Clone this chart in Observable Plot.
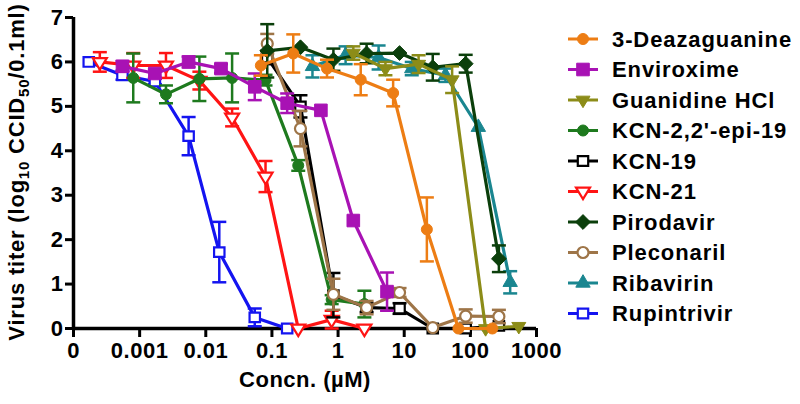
<!DOCTYPE html>
<html><head><meta charset="utf-8">
<script src="https://cdn.jsdelivr.net/npm/d3@7"></script>
<script src="https://cdn.jsdelivr.net/npm/@observablehq/plot@0.6"></script>
<style>
html,body{margin:0;padding:0;background:#fff;}
#chart{position:relative;width:800px;height:404px;}
</style></head><body><div id="chart"></div>
<script>
// ---- data: [concentration µM, titer log10 CCID50/0.1ml, error] ----
const seriesNames = ["3-Deazaguanine","Enviroxime","Guanidine HCl","KCN-2,2'-epi-19","KCN-19","KCN-21","Pirodavir","Pleconaril","Ribavirin","Rupintrivir"];
const seriesColors = ["#ED7D14","#A812B4","#8C8C18","#1E7A1E","#000000","#FF1414","#0B3F0B","#9E7548","#1A8690","#1414F0"];
const seriesSymbols = ["circle","square","triDown","circle","rect","triDown","diamond","circle","triUp","rect"];
const openSeries = ["KCN-19","KCN-21","Pleconaril","Rupintrivir"];
const drawOrder = ["Rupintrivir","Ribavirin","KCN-21","KCN-19","KCN-2,2'-epi-19","Pleconaril","Pirodavir","Guanidine HCl","Enviroxime","3-Deazaguanine"];

const deazaguanine = [[0.068,5.92,0.23],[0.21,6.19,0.43],[0.68,5.85,0.2],[2.2,5.6,0.35],[6.8,5.3,0.3],[22,2.23,0.72],[66,0,0],[215,0,0]];
const enviroxime = [[0.00055,5.9,0.12],[0.0017,5.74,0.1],[0.0055,6.0,0.12],[0.017,5.85,0.1],[0.055,5.44,0.3],[0.17,5.07,0.22],[0.55,4.91,0],[1.7,2.43,0],[5.5,0.83,0.43]];
const guanidine = [[1.7,6.2,0.15],[5.2,5.85,0.15],[16.5,5.95,0.2],[53,5.6,0.3],[170,0,0],[540,0.05,0]];
const kcnEpi19 = [[0.0008,5.64,0.55],[0.0025,5.27,0.2],[0.008,5.62,0.5],[0.025,5.64,0.55],[0.08,5.59,0.12],[0.25,3.67,0.12],[0.8,0.65,0.1],[2.5,0.55,0.3]];
const kcn19 = [[0.085,6.1,0.15],[0.27,5.0,0.25],[0.85,0.75,0.5],[2.7,0.47,0.1],[8.5,0.45,0.12],[27,0,0],[85,0,0],[270,0.06,0]];
const kcn21 = [[0.00025,6.0,0.22],[0.0008,5.92,0.28],[0.0025,5.92,0.28],[0.008,5.58,0.2],[0.025,4.75,0.2],[0.08,3.42,0.35],[0.25,0,0],[0.8,0.2,0.2],[2.5,0,0]];
const pirodavir = [[0.085,6.25,0.6],[0.27,6.33,0],[0.85,6.05,0.25],[2.7,6.19,0.22],[8.5,6.2,0],[27,5.88,0.3],[85,5.96,0.2],[270,1.57,0.3]];
const pleconaril = [[0.085,6.41,0.22],[0.27,4.5,0.4],[0.85,0.77,0.35],[2.7,0.47,0.15],[8.5,0.81,0.1],[27,0.02,0],[85,0.28,0.15],[270,0.27,0.15]];
const ribavirin = [[0.41,5.9,0.25],[1.3,6.15,0.2],[4.1,6.1,0.27],[13,5.85,0.15],[42,5.7,0.15],[132,4.53,0],[400,1.04,0.25]];
const rupintrivir = [[0.00017,6.0,0],[0.00055,5.7,0.1],[0.0017,5.56,0.06],[0.0055,4.33,0.43],[0.016,1.72,0.68],[0.055,0.25,0.2],[0.17,0,0]];

const seriesData = [deazaguanine, enviroxime, guanidine, kcnEpi19, kcn19, kcn21, pirodavir, pleconaril, ribavirin, rupintrivir];

const xTicks = [0.0001,0.001,0.01,0.1,1,10,100,1000];
const xTickLabels = ["0","0.001","0.01","0.1","1","10","100","1000"];
const yTicks = [0,1,2,3,4,5,6,7];

// ---- symbols ----
function makeSymbol(kind){
  return {draw(ctx, size){
    const s = Math.sqrt(size/Math.PI)/6;
    if (kind==="circle"){ const R=5.5*s; ctx.moveTo(R,0); ctx.arc(0,0,R,0,2*Math.PI); }
    else if (kind==="square"){ const h=6.3*s; ctx.rect(-h,-h,2*h,2*h); }
    else if (kind==="rect"){ const w=5.2*s,h=4.8*s; ctx.rect(-w,-h,2*w,2*h); }
    else if (kind==="triDown"){ const a=7*s,t=11.5*s; ctx.moveTo(0,2*t/3); ctx.lineTo(a,-t/3); ctx.lineTo(-a,-t/3); ctx.closePath(); }
    else if (kind==="triUp"){ const a=7.2*s,t=12.5*s; ctx.moveTo(0,-2*t/3); ctx.lineTo(a,t/3); ctx.lineTo(-a,t/3); ctx.closePath(); }
    else if (kind==="diamond"){ const d=7.4*s; ctx.moveTo(0,-d); ctx.lineTo(d,0); ctx.lineTo(0,d); ctx.lineTo(-d,0); ctx.closePath(); }
    else if (kind==="cap"){ const w=7*s; ctx.moveTo(-w,0); ctx.lineTo(w,0); }
  }};
}
const capSym = makeSymbol("cap");

const marks = [
  Plot.ruleY([0], {strokeWidth: 3.5, stroke: "black"}),
  Plot.ruleX([0.0001], {strokeWidth: 3.5, stroke: "black"}),
  Plot.axisX(xTicks, {tickFormat: d => xTickLabels[xTicks.indexOf(d)], tickSize: 9, tickPadding: 5, strokeWidth: 3, fontSize: 22, fontWeight: "bold", label: null}),
  Plot.axisY(yTicks, {tickSize: 8, tickPadding: 2, strokeWidth: 3, fontSize: 22, fontWeight: "bold", label: null}),
  Plot.text(["Concn. (µM)"], {text: d => d, frameAnchor: "bottom", dy: 58, fontSize: 22, fontWeight: "bold"})
];

for (const name of drawOrder){
  const i = seriesNames.indexOf(name);
  const color = seriesColors[i];
  const rows = seriesData[i].map(([x,y,e]) => ({x,y,e}));
  const errRows = rows.filter(d => d.e > 0);
  const open = openSeries.includes(name);
  marks.push(Plot.ruleX(errRows, {x: "x", y1: d => d.y - d.e, y2: d => d.y + d.e, stroke: color, strokeWidth: 2.5}));
  marks.push(Plot.dot(errRows, {x: "x", y: d => d.y + d.e, symbol: capSym, r: 6, fill: "none", stroke: color, strokeWidth: 2.5}));
  marks.push(Plot.dot(errRows, {x: "x", y: d => d.y - d.e, symbol: capSym, r: 6, fill: "none", stroke: color, strokeWidth: 2.5}));
  marks.push(Plot.line(rows, {x: "x", y: "y", stroke: color, strokeWidth: 3.2}));
  marks.push(Plot.dot(rows, {x: "x", y: "y", symbol: makeSymbol(seriesSymbols[i]), r: 6,
    fill: open ? "white" : color, stroke: color, strokeWidth: open ? 2.2 : 1}));
}

const chart = Plot.plot({
  width: 800, height: 404,
  marginLeft: 73, marginRight: 264, marginTop: 17, marginBottom: 76,
  x: {type: "log", domain: [0.0001, 1000]},
  y: {domain: [0, 7]},
  style: "font-family: 'Liberation Sans', Arial, sans-serif; font-weight: bold; font-size: 22px; color: black; background: white; letter-spacing: 0.5px; overflow: visible;",
  marks
});
document.getElementById("chart").appendChild(chart);

const svg = d3.select(chart);
// y-axis title with subscripts
const yt = svg.append("text")
  .attr("transform", "translate(24,172) rotate(-90)")
  .attr("text-anchor", "middle")
  .attr("fill", "black")
  .style("font-size", "22px").style("font-weight", "bold").style("letter-spacing", "0.8px");
yt.append("tspan").text("Virus titer (log");
yt.append("tspan").attr("dy", 5).style("font-size", "15px").text("10");
yt.append("tspan").attr("dy", -5).text(" CCID");
yt.append("tspan").attr("dy", 5).style("font-size", "15px").text("50");
yt.append("tspan").attr("dy", -5).text("/0.1ml)");

// legend
const lg = svg.append("g").attr("text-anchor", "start");
seriesNames.forEach((name, i) => {
  const cy = 39 + i * 30.5;
  const color = seriesColors[i];
  const open = openSeries.includes(name);
  const g = lg.append("g").attr("transform", `translate(0,${cy})`);
  g.append("line").attr("x1", 568).attr("x2", 598).attr("y1", 0).attr("y2", 0).attr("stroke", color).attr("stroke-width", 3);
  g.append("path").attr("transform", "translate(583,0)")
    .attr("d", d3.symbol(makeSymbol(seriesSymbols[i]), 36 * Math.PI)())
    .attr("fill", open ? "white" : color).attr("stroke", color).attr("stroke-width", open ? 2.2 : 1);
  g.append("text").attr("x", 612).attr("y", 0).attr("dy", "0.36em").attr("fill", "black")
    .attr("text-anchor", "start")
    .style("font-size", "22px").style("font-weight", "bold").style("letter-spacing", "0.9px").text(name);
});
</script>
</body></html>
